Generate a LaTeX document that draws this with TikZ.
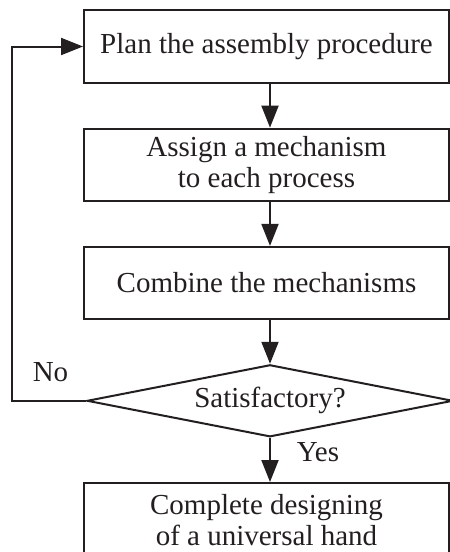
\documentclass[tikz,border=0pt]{standalone}
\usepackage{fontspec}
\setmainfont{Liberation Serif}
\usetikzlibrary{shapes.geometric,arrows.meta}
\definecolor{ink}{RGB}{35,31,32}

\begin{document}
\begin{tikzpicture}[x=1pt,y=-1pt,
  every node/.style={font=\fontsize{29}{31}\selectfont,text=ink},
  stepbox/.style={draw=ink,line width=2pt,rectangle,minimum width=365pt,inner sep=0pt,align=center},
  decision/.style={draw=ink,line width=2pt,diamond,aspect=5,minimum width=366pt,minimum height=72pt,inner sep=0pt},
  flow/.style={draw=ink,line width=2pt,-{Triangle[length=22pt,width=17pt,fill=ink]}},
  tag/.style={anchor=base,inner sep=0pt}]

  \useasboundingbox (0,0) rectangle (450,552);
  \clip (0,0) rectangle (450,552);

  % process boxes
  \node[stepbox,minimum height=73pt] (b1) at (266.5,46.5) {Plan the assembly procedure};
  \node[stepbox,minimum height=72pt] (b2) at (266.5,164.6) {Assign a mechanism\\to each process};
  \node[stepbox,minimum height=72pt] (b3) at (266.5,282.9) {Combine the mechanisms};
  \node[decision] (d) at (270,400.8) {Satisfactory?};
  \node[stepbox,minimum height=74pt] (b4) at (266.5,520) {Complete designing\\of a universal hand};

  % main flow
  \draw[flow] (b1.south -| d.north) -- (b2.north -| d.north);
  \draw[flow] (b2.south -| d.north) -- (b3.north -| d.north);
  \draw[flow] (b3.south -| d.north) -- (d.north);
  \draw[flow] (d.south) -- (b4.north -| d.south);

  % return path when not satisfactory
  \coordinate (lp) at (12.3,400.8);
  \draw[flow] (d.west) -- (lp) |- (b1.west);

  % branch labels
  \node[tag] (no) at (50.5,381) {No};
  \node[tag] (yes) at (318,461) {Yes};
\end{tikzpicture}
\end{document}
